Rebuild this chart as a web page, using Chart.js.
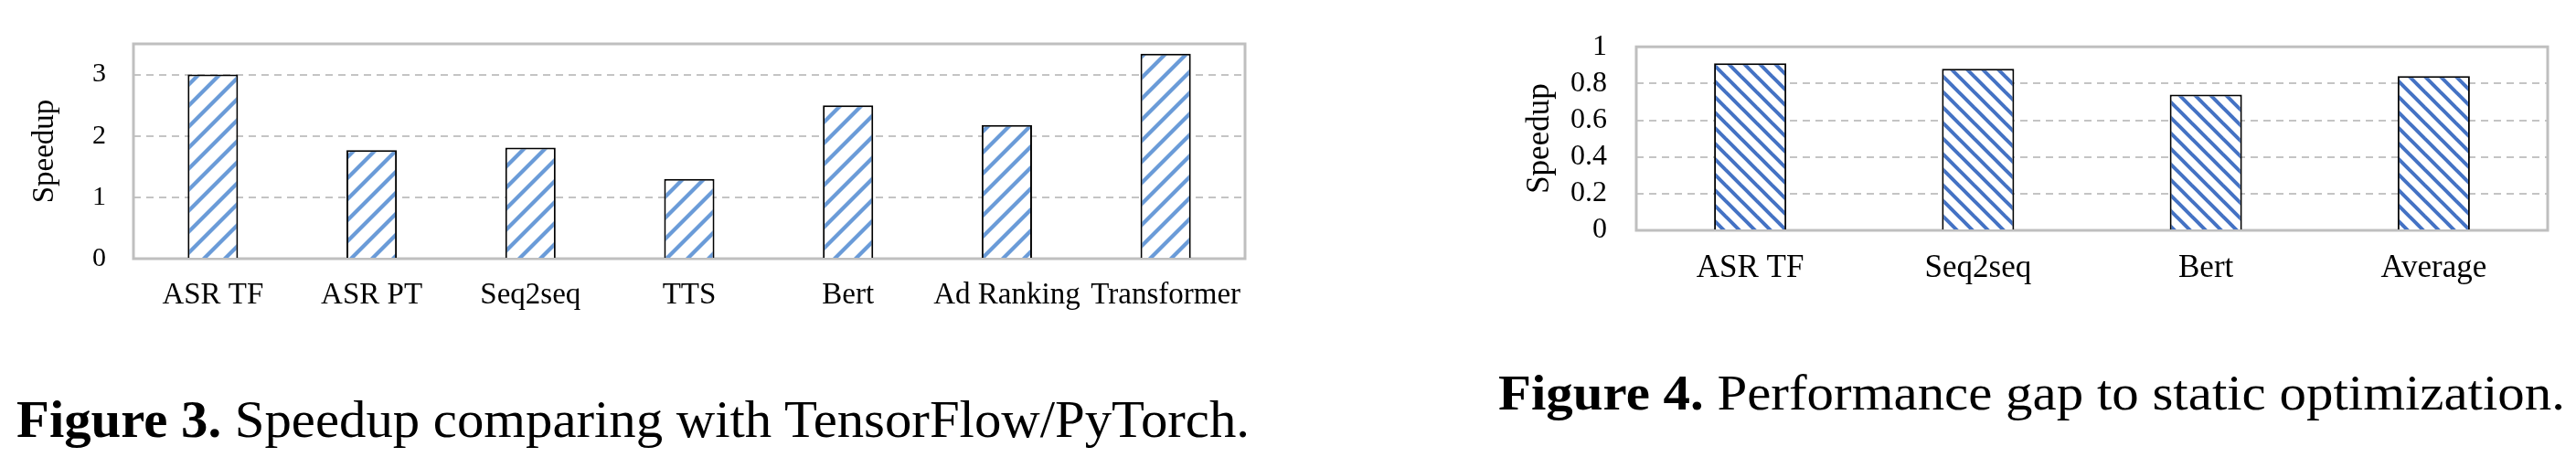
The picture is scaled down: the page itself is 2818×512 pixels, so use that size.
<!DOCTYPE html>
<html>
<head>
<meta charset="utf-8">
<script src="https://cdn.jsdelivr.net/npm/chart.js@4"></script>
<style>
  html, body { margin: 0; padding: 0; background: #ffffff; }
  body { width: 2818px; height: 512px; position: relative; overflow: hidden; }
  canvas { position: absolute; }
  .cap { position: absolute; white-space: nowrap; font-family: "Liberation Serif", serif; color: #000; line-height: 1; transform-origin: 0 0; }
  .cap b { font-weight: bold; }
</style>
</head>
<body>
<canvas id="c1" width="1400" height="350" style="left:0px;top:0px;width:1400px;height:350px"></canvas>
<canvas id="c2" width="1218" height="320" style="left:1600px;top:0px;width:1218px;height:320px"></canvas>
<div id="cap1" class="cap" style="left:18px;top:430px;font-size:57px"><b>Figure 3.</b> Speedup comparing with TensorFlow/PyTorch.</div>
<div id="cap2" class="cap" style="left:1639px;top:403px;font-size:54px"><b>Figure 4.</b> Performance gap to static optimization.</div>
<script>
// ---- Data: Figure 3 ----
const fig3Categories = ["ASR TF", "ASR PT", "Seq2seq", "TTS", "Bert", "Ad Ranking", "Transformer"];
const fig3Speedup = [3.0, 1.77, 1.81, 1.30, 2.50, 2.18, 3.34];
const fig3YTicks = [0, 1, 2, 3];
const fig3YMax = 3.5;

// ---- Data: Figure 4 ----
const fig4Categories = ["ASR TF", "Seq2seq", "Bert", "Average"];
const fig4Speedup = [0.91, 0.88, 0.74, 0.84];
const fig4YTicks = [0, 0.2, 0.4, 0.6, 0.8, 1];
const fig4YMax = 1;

const axisTitle = "Speedup";

Chart.defaults.devicePixelRatio = 1;
Chart.defaults.animation = false;
Chart.defaults.font.family = "'Liberation Serif', 'Times New Roman', serif";
Chart.defaults.color = "#000000";

function hatch(color, period, width, dir) {
  const c = document.createElement("canvas");
  c.width = period; c.height = period;
  const g = c.getContext("2d");
  g.fillStyle = "#ffffff";
  g.fillRect(0, 0, period, period);
  g.strokeStyle = color;
  g.lineWidth = width;
  g.lineCap = "square";
  const s = period;
  const segs = dir === "up"
    ? [[-s, s, s, -s], [0, s, s, 0], [0, 2 * s, 2 * s, 0]]
    : [[-s, 0, s, 2 * s], [0, 0, s, s], [0, -s, 2 * s, s]];
  segs.forEach(([x1, y1, x2, y2]) => { g.beginPath(); g.moveTo(x1, y1); g.lineTo(x2, y2); g.stroke(); });
  return g.createPattern(c, "repeat");
}

const framePlugin = {
  id: "frame",
  beforeDatasetsDraw(chart) {
    const a = chart.chartArea, ctx = chart.ctx;
    ctx.save();
    ctx.strokeStyle = "#bfbfbf";
    ctx.lineWidth = 3;
    ctx.strokeRect(a.left, a.top, a.right - a.left, a.bottom - a.top);
    ctx.restore();
  }
};

function makeChart(id, cats, vals, ticks, ymax, pattern, o) {
  return new Chart(document.getElementById(id), {
    type: "bar",
    data: {
      labels: cats,
      datasets: [{
        data: vals,
        backgroundColor: pattern,
        borderColor: "#000000",
        borderWidth: 2,
        borderSkipped: "bottom",
        barPercentage: 0.317,
        categoryPercentage: 1.0
      }]
    },
    options: {
      responsive: false,
      maintainAspectRatio: false,
      layout: { padding: { top: o.padTop, right: o.padRight, left: 0, bottom: 0 } },
      plugins: { legend: { display: false }, tooltip: { enabled: false } },
      scales: {
        x: {
          grid: { display: false, drawTicks: false },
          border: { display: false },
          ticks: { autoSkip: false, maxRotation: 0, minRotation: 0, padding: o.xPad, font: { size: o.xFont } },
          afterFit(s) { s.height = o.xHeight; }
        },
        y: {
          min: 0,
          max: ymax,
          afterBuildTicks(s) { s.ticks = ticks.map(v => ({ value: v })); },
          grid: { color: "#c4c4c4", lineWidth: 2, drawTicks: false },
          border: { display: false, dash: [8, 6] },
          ticks: { autoSkip: false, padding: o.yPad, font: { size: o.yFont }, callback: v => String(v) },
          title: { display: true, text: axisTitle, font: { size: o.tFont, lineHeight: 1.2 }, padding: { top: o.tPad, bottom: 0 } },
          afterFit(s) { s.width = o.yWidth; }
        }
      }
    },
    plugins: [framePlugin]
  });
}

makeChart("c1", fig3Categories, fig3Speedup, fig3YTicks, fig3YMax,
  hatch("#6a9bd8", 23, 4.2, "up"),
  { padTop: 45, padRight: 38, xHeight: 67, yWidth: 146, xPad: 21, yPad: 30, xFont: 33, yFont: 30, tFont: 33, tPad: 30 });

makeChart("c2", fig4Categories, fig4Speedup, fig4YTicks, fig4YMax,
  hatch("#4472c4", 17, 4, "down"),
  { padTop: 47, padRight: 31, xHeight: 68, yWidth: 190, xPad: 21, yPad: 32, xFont: 35, yFont: 32, tFont: 35, tPad: 64 });

function fitCap(id, target) {
  const el = document.getElementById(id);
  const w = el.getBoundingClientRect().width;
  if (w > 0) el.style.transform = "scaleX(" + (target / w) + ")";
}
fitCap("cap1", 1349);
fitCap("cap2", 1167);
</script>
</body>
</html>
